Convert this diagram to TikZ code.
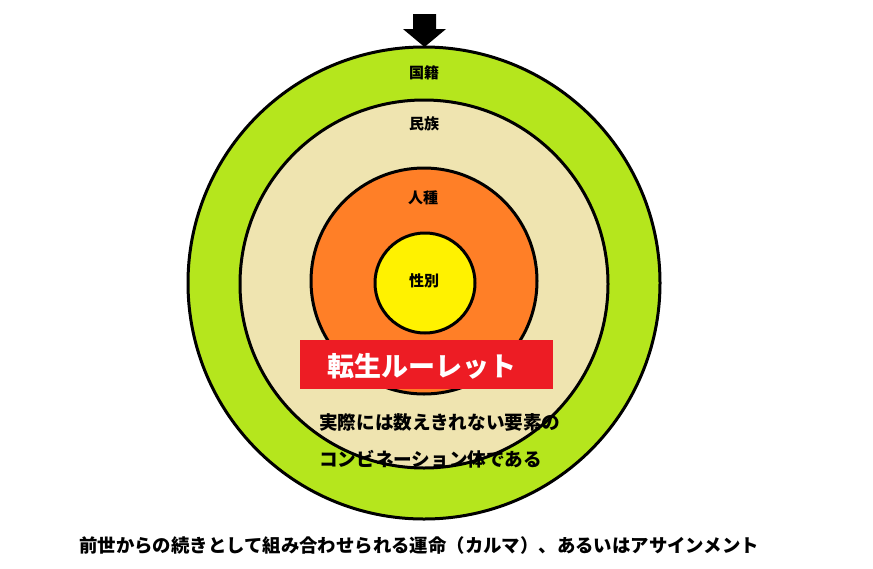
\documentclass[tikz,border=0pt]{standalone}
\usepackage{fontspec}
\setmainfont{Noto Sans CJK JP}
\begin{document}
\begin{tikzpicture}[x=1pt,y=-1pt,
  ring/.style={draw=black,line width=3pt},
  lbl/.style={font=\fontsize{15}{17}\selectfont\bfseries,inner sep=0pt},
  body/.style={font=\fontsize{18.6}{20}\selectfont\bfseries,inner sep=0pt,anchor=west}]
\useasboundingbox (0,0) rectangle (873,568);
\fill[white] (0,0) rectangle (873,568);
\node[ring,circle,fill={rgb,255:red,181;green,230;blue,29},minimum size=472pt,inner sep=0pt] (c1) at (424,283) {};
\node[ring,circle,fill={rgb,255:red,239;green,228;blue,176},minimum size=368pt,inner sep=0pt] (c2) at (424,284) {};
\node[ring,circle,fill={rgb,255:red,255;green,127;blue,39},minimum size=226pt,inner sep=0pt] (c3) at (424,281) {};
\node[ring,circle,fill={rgb,255:red,255;green,242;blue,0},minimum size=100pt,inner sep=0pt] (c4) at (425,283) {};
\node[lbl] (l1) at (424,73) {国籍};
\node[lbl] (l2) at (424,124) {民族};
\node[lbl] (l3) at (423,198) {人種};
\node[lbl] (l4) at (424,281) {性別};
\node[fill={rgb,255:red,237;green,28;blue,36},minimum width=253pt,minimum height=49pt,inner sep=0pt] (rr) at (426.5,364.5) {};
\node[text=white,font=\fontsize{27}{30}\selectfont\bfseries,inner sep=0pt] (rt) at (422,366) {転生ルーレット};
\node[body] (t1) at (319,422) {実際には数えきれない要素の};
\node[body] (t2) at (319,459) {コンビネーション体である};
\node[body,font=\fontsize{18.4}{21}\selectfont\bfseries] (t3) at (79,545) {前世からの続きとして組み合わせられる運命（カルマ）、あるいはアサインメント};
\fill[black] (413,14) -- (436,14) -- (436,29) -- (446,29) -- (424.5,47) -- (403,29) -- (413,29) -- cycle;
\end{tikzpicture}
\end{document}
